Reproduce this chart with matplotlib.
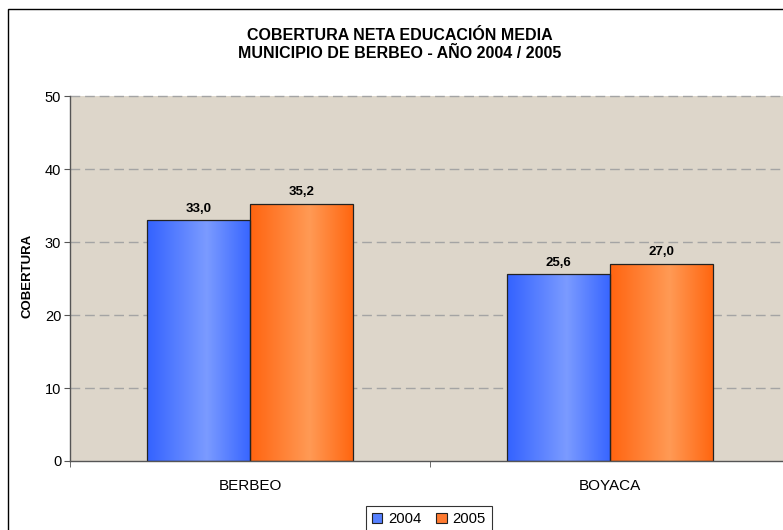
import numpy as np
import matplotlib
matplotlib.use("Agg")
import matplotlib.pyplot as plt
from matplotlib.patches import Rectangle
from matplotlib.colors import LinearSegmentedColormap

plt.rcParams['font.family'] = ['Liberation Sans', 'DejaVu Sans']

# ---- data ----
categories = ["BERBEO", "BOYACA"]
series_names = ["2004", "2005"]
values_2004 = [33.0, 25.6]
values_2005 = [35.2, 27.0]
title_lines = ["COBERTURA NETA EDUCACIÓN MEDIA", "MUNICIPIO DE BERBEO - AÑO 2004 / 2005"]
y_label = "COBERTURA"
y_ticks = [0, 10, 20, 30, 40, 50]

W, H = 783, 530
fig = plt.figure(figsize=(W / 100, H / 100), dpi=100)
fig.patch.set_facecolor('white')

# outer chart border (extends past right/bottom like the cropped reference)
fig.patches.append(Rectangle((8 / W, -0.2), 2.0, (1 - 9 / H) + 0.2,
                             transform=fig.transFigure, fill=False,
                             edgecolor='black', lw=1.0, zorder=0))

ax_l, ax_r, ax_t, ax_b = 70, 790, 96, 461
ax = fig.add_axes([ax_l / W, 1 - ax_b / H, (ax_r - ax_l) / W, (ax_b - ax_t) / H])
ax.set_facecolor('#DDD6CA')

x = np.arange(len(categories))
w = 1 / 3.5
cmap_blue = LinearSegmentedColormap.from_list('b', [(0, '#3362FF'), (0.58, '#7B9BFF'), (1, '#3866FF')])
cmap_orange = LinearSegmentedColormap.from_list('o', [(0, '#FF6410'), (0.58, '#FF9A55'), (1, '#FF6610')])

grad = np.linspace(0, 1, 256).reshape(1, -1)
for vals, off, cmap in [(values_2004, -w / 2, cmap_blue), (values_2005, w / 2, cmap_orange)]:
    bars = ax.bar(x + off, vals, width=w, color='none', edgecolor='#222222', lw=0.9, zorder=3)
    for b, v in zip(bars, vals):
        x0 = b.get_x()
        im = ax.imshow(grad, cmap=cmap, aspect='auto', zorder=2.5,
                       extent=(x0, x0 + b.get_width(), 0, b.get_height()))
        im.set_clip_path(b)
        ax.annotate(f"{v:.1f}".replace('.', ','), (b.get_x() + b.get_width() / 2, v),
                    xytext=(0, 4), textcoords='offset points', ha='center', va='bottom',
                    fontsize=9.5, fontweight='bold', color='black', zorder=5)

ax.set_xlim(-0.5, 1.5)
ax.set_ylim(0, 50)
ax.set_yticks(y_ticks)
ax.set_yticklabels([str(t) for t in y_ticks], fontsize=10.5)
ax.set_xticks(x)
ax.set_xticklabels(categories, fontsize=11)
ax.set_xticks([-0.5, 0.5, 1.5], minor=True)
ax.tick_params(axis='x', which='major', length=0, pad=13)
ax.tick_params(axis='x', which='minor', length=4.3, color='#555555', direction='out')
ax.tick_params(axis='y', length=4.3, color='#555555', pad=2, direction='out')

for s in ['top', 'right']:
    ax.spines[s].set_visible(False)
for s in ['left', 'bottom']:
    ax.spines[s].set_color('#555555')
    ax.spines[s].set_linewidth(1.0)
    ax.spines[s].set_zorder(4)

for t in y_ticks[1:]:
    ax.axhline(t, color='#A4A4A4', lw=1.0, ls=(0, (7, 3.5)), zorder=1, clip_on=False)

# titles
fig.text(400 / W, 1 - 36 / H, title_lines[0], ha='center', va='center', fontsize=11.5, fontweight='bold')
fig.text(400 / W, 1 - 54 / H, title_lines[1], ha='center', va='center', fontsize=11.5, fontweight='bold')
fig.text(28 / W, 1 - 276 / H, y_label, ha='center', va='center', rotation=90, fontsize=9.5, fontweight='bold')

handles = [Rectangle((0, 0), 1, 1, facecolor='#5580FF', edgecolor='#222222', lw=0.8),
           Rectangle((0, 0), 1, 1, facecolor='#FF7A30', edgecolor='#222222', lw=0.8)]
leg = fig.legend(handles, series_names, loc='upper center', bbox_to_anchor=(429 / W, 1 - 506 / H),
                 ncol=2, frameon=True, fancybox=False, fontsize=10.7,
                 handlelength=0.68, handleheight=0.68, handletextpad=0.4,
                 columnspacing=1.0, borderpad=0.4, borderaxespad=0)
leg.get_frame().set_edgecolor('black')
leg.get_frame().set_linewidth(0.8)

fig.savefig('out.png', dpi=100)
